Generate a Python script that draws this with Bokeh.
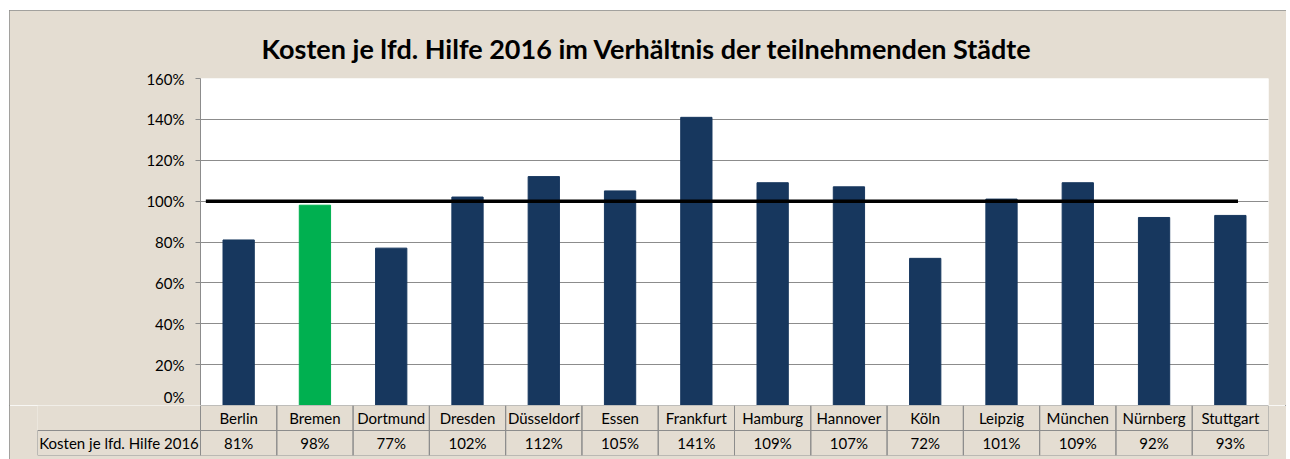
from bokeh.plotting import figure
from bokeh.layouts import column
from bokeh.models import Range1d, FixedTicker, CustomJSTickFormatter, ColumnDataSource
from bokeh.core.properties import value
from bokeh.embed import file_html
from bokeh.resources import INLINE

# ---- data ----
cities = ["Berlin", "Bremen", "Dortmund", "Dresden", "Düsseldorf", "Essen", "Frankfurt",
          "Hamburg", "Hannover", "Köln", "Leipzig", "München", "Nürnberg", "Stuttgart"]
kosten = [0.81, 0.98, 0.77, 1.02, 1.12, 1.05, 1.41, 1.09, 1.07, 0.72, 1.01, 1.09, 0.92, 0.93]
value_labels = ["81%", "98%", "77%", "102%", "112%", "105%", "141%", "109%", "107%",
                "72%", "101%", "109%", "92%", "93%"]
highlight = "Bremen"
series_name = "Kosten je lfd. Hilfe 2016"
y_ticks = [0.0, 0.2, 0.4, 0.6, 0.8, 1.0, 1.2, 1.4, 1.6]
ref_level = 1.0
ref_x = [0.07, 13.6]
title = "Kosten je lfd. Hilfe 2016 im Verhältnis der teilnehmenden Städte"

BEIGE = "#E4DDD2"
NAVY = "#17375E"
GREEN = "#00B050"
GRID = "#8C8C8C"
FONT = "Lato"

n = len(cities)
xs = [i + 0.5 for i in range(n)]
colors = [GREEN if c == highlight else NAVY for c in cities]

# ---- chart ----
p = figure(width=1277, height=395, output_backend="svg", toolbar_location=None,
           x_range=Range1d(0, n), y_range=Range1d(0, 1.6), frame_align=False,
           min_border_left=191, min_border_right=18, min_border_top=68, min_border_bottom=0)
p.border_fill_color = BEIGE
p.background_fill_color = "white"
p.outline_line_color = None
p.title.text = title
p.title.align = "left"
p.title.offset = 61
p.title.vertical_align = "top"
p.title.text_font = FONT
p.title.text_font_size = "27px"
p.title.text_font_style = "bold"
p.title.text_color = "black"
p.title.standoff = 24
p.xaxis.visible = False
p.xgrid.visible = False
p.ygrid.ticker = FixedTicker(ticks=y_ticks)
p.ygrid.grid_line_color = GRID
p.ygrid.grid_line_width = 1
p.yaxis.ticker = FixedTicker(ticks=y_ticks)
p.yaxis.formatter = CustomJSTickFormatter(code="return Math.round(tick*100) + '%';")
p.yaxis.axis_line_color = GRID
p.yaxis.major_tick_line_color = GRID
p.yaxis.major_tick_out = 5
p.yaxis.major_tick_in = 0
p.yaxis.minor_tick_line_color = None
p.yaxis.major_label_text_font = FONT
p.yaxis.major_label_text_font_size = "15px"
p.yaxis.major_label_text_color = "black"
p.yaxis.major_label_standoff = 11

src = ColumnDataSource(dict(x=xs, top=kosten, color=colors))
p.vbar(x="x", top="top", width=0.41, bottom=0, fill_color="color", line_color="color", source=src)
p.line(x=ref_x, y=[ref_level, ref_level], line_color="black", line_width=3.5)

# ---- data table ----
label_w = 163 / (1231 - 163) * n  # width of label column in category units
t = figure(width=1277, height=54, output_backend="svg", toolbar_location=None,
           x_range=Range1d(-label_w, n), y_range=Range1d(0, 2), frame_align=False,
           min_border_left=28, min_border_right=18, min_border_top=0, min_border_bottom=4)
t.border_fill_color = BEIGE
t.background_fill_color = BEIGE
t.outline_line_color = None
t.axis.visible = False
t.grid.visible = False

cell_src = ColumnDataSource(dict(x=xs, cat=cities, val=value_labels))
t.rect(x="x", y=1.5, width=1, height=1, fill_color=None, line_color=GRID, line_width=1, source=cell_src)
t.rect(x="x", y=0.5, width=1, height=1, fill_color=None, line_color=GRID, line_width=1, source=cell_src)
t.rect(x=-label_w / 2, y=0.5, width=label_w, height=1, fill_color=None, line_color=GRID, line_width=1)
t.text(x="x", y=1.5, text="cat", text_align="center", text_baseline="middle",
       text_font=value(FONT), text_font_size="15px", text_color="black", source=cell_src)
t.text(x="x", y=0.5, text="val", text_align="center", text_baseline="middle",
       text_font=value(FONT), text_font_size="15px", text_color="black", source=cell_src)
t.text(x=[-label_w / 2], y=[0.5], text=[series_name], text_align="center", text_baseline="middle",
       text_font=value(FONT), text_font_size="15px", text_color="black")

layout = column(p, t, spacing=0, margin=(10, 4, 0, 9),
                styles={"background-color": "white", "outline": "1px solid #8C8C8C",
                        "outline-offset": "-1px"})
page = file_html(layout, INLINE)
page = page.replace("<body>", '<body style="margin:0;background:white;">')
open("out.html", "w").write(page)
